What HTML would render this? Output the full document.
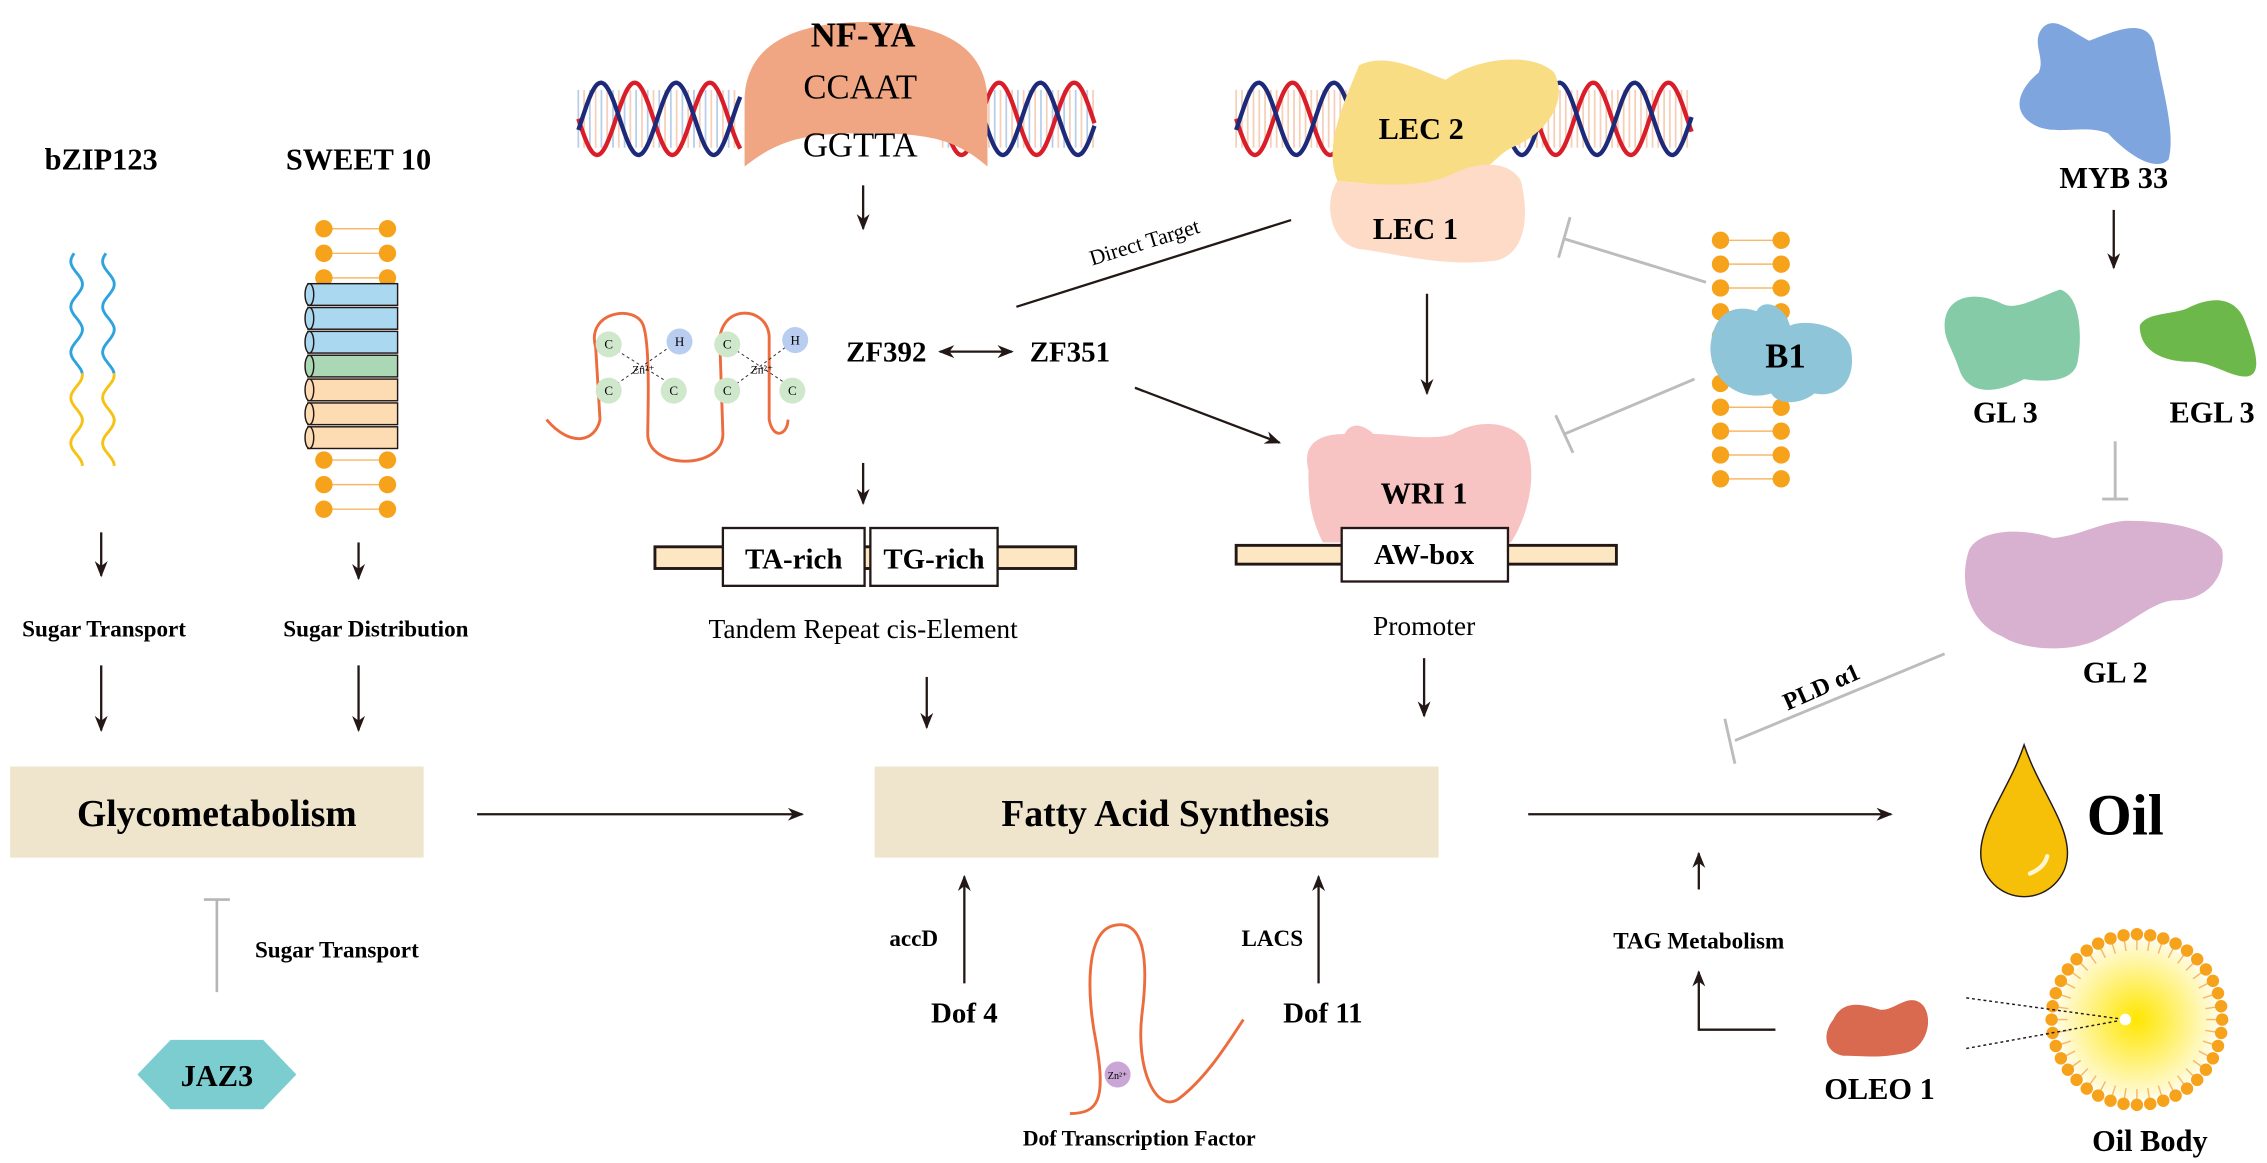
<!DOCTYPE html>
<html><head><meta charset="utf-8"><style>
html,body{margin:0;padding:0;background:#fff}
svg{display:block}
text{font-family:"Liberation Serif",serif}
.b{font-weight:bold}
</style></head><body>
<svg id="s" width="2267" height="1163" viewBox="0 0 1568 804" xmlns="http://www.w3.org/2000/svg">
<defs>
<marker id="a" viewBox="0 0 10 10" refX="9" refY="5" markerWidth="7" markerHeight="7" orient="auto-start-reverse"><path d="M0,1 L10,5 L0,9 L3,5 z" fill="#231815"/></marker>
<radialGradient id="og"><stop offset="0" stop-color="#ffe600"/><stop offset="1" stop-color="#fffbe0"/></radialGradient>
</defs>
<g id="helix"></g>
<!-- NF-YA -->
<path d="M515,115 L515,70 C515,30 550,15 599,15 C648,15 683,30 683,70 L683,115 C660,95 640,92 599,92 C560,92 540,95 515,115 z" fill="#f0a583"/>
<text x="597" y="32" text-anchor="middle" class="b" font-size="24">NF-YA</text>
<text x="595" y="68" text-anchor="middle" font-size="24">CCAAT</text>
<text x="595" y="108" text-anchor="middle" font-size="24">GGTTA</text>

<text x="70" y="117" text-anchor="middle" class="b" font-size="21">bZIP123</text>
<text x="248" y="117" text-anchor="middle" class="b" font-size="21">SWEET 10</text>
<g id="bzip" fill="none" stroke-width="2"></g>
<g id="sweet"></g>

<g stroke="#231815" stroke-width="1.6" fill="none" marker-end="url(#a)">
<line x1="70" y1="368" x2="70" y2="398"/>
<line x1="248" y1="375" x2="248" y2="400"/>
<line x1="70" y1="460" x2="70" y2="505"/>
<line x1="248" y1="460" x2="248" y2="505"/>
<line x1="330" y1="563" x2="555" y2="563"/>
<line x1="1057" y1="563" x2="1308" y2="563"/>
<line x1="597" y1="128" x2="597" y2="158"/>
<line x1="597" y1="320" x2="597" y2="348"/>
<line x1="641" y1="468" x2="641" y2="503"/>
<line x1="785" y1="268" x2="885" y2="306"/>
<line x1="987" y1="203" x2="987" y2="272"/>
<line x1="985" y1="455" x2="985" y2="495"/>
<line x1="1462" y1="145" x2="1462" y2="185"/>
<line x1="1175" y1="615" x2="1175" y2="590"/>
<polyline points="1228,712 1175,712 1175,672"/>
<line x1="667" y1="680" x2="667" y2="606"/>
<line x1="912" y1="680" x2="912" y2="606"/>
</g>
<line x1="650" y1="243" x2="700" y2="243" stroke="#231815" stroke-width="1.6" marker-end="url(#a)" marker-start="url(#a)"/>

<text x="72" y="440" text-anchor="middle" class="b" font-size="16">Sugar Transport</text>
<text x="260" y="440" text-anchor="middle" class="b" font-size="16">Sugar Distribution</text>
<rect x="7" y="530" width="286" height="63" fill="#efe4cc"/>
<text x="150" y="571" text-anchor="middle" class="b" font-size="26">Glycometabolism</text>
<rect x="605" y="530" width="390" height="63" fill="#efe4cc"/>
<text x="806" y="571" text-anchor="middle" class="b" font-size="26">Fatty Acid Synthesis</text>

<g stroke="#b5b5b5" stroke-width="1.8"><line x1="150" y1="686" x2="150" y2="622"/><line x1="141" y1="622" x2="159" y2="622"/></g>
<text x="233" y="662" text-anchor="middle" class="b" font-size="16">Sugar Transport</text>
<polygon points="95,743 118,719 182,719 205,743 182,767 118,767" fill="#7ccdd0"/>
<text x="150" y="751" text-anchor="middle" class="b" font-size="21">JAZ3</text>

<g fill="none" stroke="#ec6c3e" stroke-width="2">
<path d="M378,290 C395,310 412,305 415,290 L412,240 C405,215 440,210 445,225 C450,240 448,290 448,300 C448,325 500,325 500,300 L498,240 C495,210 530,210 532,232 L532,290 C535,305 545,300 545,290"/>
</g>
<g stroke="#333" stroke-width="0.7" stroke-dasharray="2,2"><line x1="420" y1="238" x2="468" y2="268"/><line x1="420" y1="270" x2="470" y2="235"/><line x1="503" y1="238" x2="548" y2="268"/><line x1="503" y1="270" x2="550" y2="235"/></g>
<g font-size="9" text-anchor="middle">
<circle cx="421" cy="238" r="9" fill="#cfe8cc"/><text x="421" y="241">C</text>
<circle cx="421" cy="270" r="9" fill="#cfe8cc"/><text x="421" y="273">C</text>
<circle cx="470" cy="236" r="9" fill="#b9cdf0"/><text x="470" y="239">H</text>
<circle cx="466" cy="270" r="9" fill="#cfe8cc"/><text x="466" y="273">C</text>
<circle cx="503" cy="238" r="9" fill="#cfe8cc"/><text x="503" y="241">C</text>
<circle cx="503" cy="270" r="9" fill="#cfe8cc"/><text x="503" y="273">C</text>
<circle cx="550" cy="235" r="9" fill="#b9cdf0"/><text x="550" y="238">H</text>
<circle cx="548" cy="270" r="9" fill="#cfe8cc"/><text x="548" y="273">C</text>
<text x="445" y="258" font-size="8">Zn²⁺</text><text x="527" y="258" font-size="8">Zn²⁺</text>
</g>
<text x="613" y="250" text-anchor="middle" class="b" font-size="20">ZF392</text>
<text x="740" y="250" text-anchor="middle" class="b" font-size="20">ZF351</text>
<line x1="703" y1="212" x2="893" y2="152" stroke="#231815" stroke-width="1.6"/>
<text x="793" y="172" text-anchor="middle" font-size="15" transform="rotate(-17 793 172)">Direct Target</text>

<rect x="453" y="378" width="291" height="15" fill="#fde7c3" stroke="#231815" stroke-width="2"/>
<rect x="500" y="365" width="98" height="40" fill="#fff" stroke="#231815" stroke-width="1.6"/>
<rect x="602" y="365" width="88" height="40" fill="#fff" stroke="#231815" stroke-width="1.6"/>
<text x="549" y="393" text-anchor="middle" class="b" font-size="20">TA-rich</text>
<text x="646" y="393" text-anchor="middle" class="b" font-size="20">TG-rich</text>
<text x="597" y="441" text-anchor="middle" font-size="19">Tandem Repeat cis-Element</text>

<path d="M925,125 C915,100 930,70 940,45 C960,35 985,50 1000,55 C1020,40 1060,35 1075,50 C1085,70 1070,90 1050,100 C1035,105 1030,120 1010,125 C990,132 960,128 925,125 z" fill="#f9dd84"/>
<path d="M925,125 C955,128 985,130 1005,120 C1025,110 1045,112 1052,125 C1058,150 1055,175 1035,180 C1000,185 965,175 940,172 C920,168 915,140 925,125 z" fill="#fddbc6"/>
<text x="983" y="96" text-anchor="middle" class="b" font-size="21">LEC 2</text>
<text x="979" y="165" text-anchor="middle" class="b" font-size="21">LEC 1</text>

<path d="M905,325 C900,305 915,300 930,300 C935,290 945,295 950,300 C965,300 990,305 1005,300 C1020,290 1045,290 1055,305 C1065,330 1055,360 1045,375 L915,375 C905,355 905,340 905,325 z" fill="#f7c3c3"/>
<text x="985" y="348" text-anchor="middle" class="b" font-size="21">WRI 1</text>
<rect x="855" y="377" width="263" height="13" fill="#fde7c3" stroke="#231815" stroke-width="2"/>
<rect x="928" y="365" width="115" height="37" fill="#fff" stroke="#231815" stroke-width="1.6"/>
<text x="985" y="390" text-anchor="middle" class="b" font-size="20">AW-box</text>
<text x="985" y="439" text-anchor="middle" font-size="19">Promoter</text>

<g id="b1m"></g>
<g stroke="#bcbcbc" stroke-width="2"><line x1="1180" y1="195" x2="1082" y2="165"/><line x1="1086" y1="150" x2="1078" y2="178"/>
<line x1="1172" y1="262" x2="1082" y2="300"/><line x1="1076" y1="287" x2="1088" y2="313"/></g>
<path d="M1183,240 C1185,215 1200,210 1215,215 C1220,205 1235,212 1238,225 C1250,220 1275,225 1280,240 C1285,265 1270,275 1255,272 C1245,280 1230,280 1225,272 C1205,278 1183,265 1183,240 z" fill="#8fc5d8"/>
<text x="1235" y="254" text-anchor="middle" class="b" font-size="24">B1</text>

<path d="M1412,20 C1420,10 1430,20 1445,28 C1465,20 1485,12 1490,30 C1495,60 1505,90 1500,110 C1490,120 1470,105 1458,92 C1440,85 1420,95 1405,85 C1390,75 1398,60 1410,50 C1415,40 1405,30 1412,20 z" fill="#7fa5de"/>
<text x="1462" y="130" text-anchor="middle" class="b" font-size="21">MYB 33</text>
<path d="M1345,225 C1345,205 1365,200 1385,210 C1395,215 1410,205 1425,200 C1440,205 1440,235 1437,250 C1435,262 1420,265 1400,262 C1375,275 1360,270 1355,255 C1350,240 1345,235 1345,225 z" fill="#86cba8"/>
<path d="M1480,225 C1485,215 1505,218 1515,212 C1530,205 1545,205 1552,220 C1560,240 1565,258 1555,260 C1545,262 1530,250 1515,250 C1500,250 1480,245 1480,225 z" fill="#6db84a"/>
<text x="1387" y="292" text-anchor="middle" class="b" font-size="21">GL 3</text>
<text x="1530" y="292" text-anchor="middle" class="b" font-size="21">EGL 3</text>
<g stroke="#bcbcbc" stroke-width="2"><line x1="1463" y1="305" x2="1463" y2="345"/><line x1="1454" y1="345" x2="1472" y2="345"/></g>
<path d="M1362,380 C1370,365 1400,365 1420,372 C1440,370 1450,362 1470,360 C1500,360 1530,365 1537,380 C1540,400 1525,415 1505,415 C1490,415 1475,430 1455,440 C1435,452 1400,450 1385,440 C1360,430 1355,400 1362,380 z" fill="#d8b0d0"/>
<text x="1463" y="472" text-anchor="middle" class="b" font-size="21">GL 2</text>
<g stroke="#bcbcbc" stroke-width="2"><line x1="1345" y1="452" x2="1200" y2="512"/><line x1="1193" y1="497" x2="1200" y2="528"/></g>
<text x="1262" y="480" text-anchor="middle" class="b" font-size="17" transform="rotate(-24 1262 480)">PLD α1</text>

<path d="M1400,515 C1390,545 1370,568 1370,590 C1370,607 1384,620 1400,620 C1416,620 1430,607 1430,590 C1430,568 1410,545 1400,515 z" fill="#f6bf08" stroke="#231815" stroke-width="1"/>
<path d="M1404,604 Q1414,600 1416,592" stroke="#fff6d0" stroke-width="3" fill="none" stroke-linecap="round"/>
<text x="1470" y="577" text-anchor="middle" class="b" font-size="40">Oil</text>
<text x="1175" y="656" text-anchor="middle" class="b" font-size="16">TAG Metabolism</text>
<path d="M1268,705 C1275,690 1290,695 1300,698 C1310,700 1320,685 1330,695 C1338,705 1332,725 1318,728 C1300,732 1290,730 1275,730 C1262,728 1260,715 1268,705 z" fill="#d9694f"/>
<text x="1300" y="760" text-anchor="middle" class="b" font-size="21">OLEO 1</text>
<circle cx="1478" cy="705" r="55" fill="url(#og)"/>
<g id="ob"></g>
<g stroke="#231815" stroke-width="1" stroke-dasharray="2,2"><line x1="1360" y1="690" x2="1470" y2="705"/><line x1="1360" y1="725" x2="1470" y2="705"/></g>
<circle cx="1470" cy="705" r="4" fill="#fff"/>
<text x="1487" y="796" text-anchor="middle" class="b" font-size="21">Oil Body</text>

<text x="632" y="654" text-anchor="middle" class="b" font-size="16">accD</text>
<text x="667" y="707" text-anchor="middle" class="b" font-size="20">Dof 4</text>
<text x="880" y="654" text-anchor="middle" class="b" font-size="16">LACS</text>
<text x="915" y="707" text-anchor="middle" class="b" font-size="20">Dof 11</text>
<path d="M740,770 C760,770 765,760 758,720 C752,690 750,645 770,640 C790,635 795,660 790,700 C785,740 800,770 815,760 C835,745 850,720 860,705" fill="none" stroke="#ec6c3e" stroke-width="2"/>
<circle cx="773" cy="743" r="9" fill="#c9a6d6"/><text x="773" y="746" text-anchor="middle" font-size="7">Zn²⁺</text>
<text x="788" y="792" text-anchor="middle" class="b" font-size="15">Dof Transcription Factor</text>
</svg>
<script>
var NS="http://www.w3.org/2000/svg";
function el(p,t,a){var e=document.createElementNS(NS,t);for(var k in a)e.setAttribute(k,a[k]);p.appendChild(e);return e;}
var H=document.getElementById("helix");
function helix(x0,x1,yc,A,P){
  for(var x=x0;x<x1;x+=4){el(H,"line",{x1:x,y1:yc-A*0.8,x2:x,y2:yc+A*0.8,stroke:(x%8?"#f5cfb8":"#b7cde8"),"stroke-width":1.2});}
  ["#d91e2a","#1d2a7a"].forEach(function(c,i){var d="";for(var x=x0;x<=x1;x+=1){var y=yc+A*Math.sin((x-x0)/P*2*Math.PI+i*Math.PI*0.9);d+=(x==x0?"M":"L")+x+","+y.toFixed(1);}el(H,"path",{d:d,fill:"none",stroke:c,"stroke-width":3});});
}
helix(400,512,82,25,52);helix(652,757,82,25,52);helix(855,1170,82,25,52);
var B=document.getElementById("bzip");
function wave(x,y0,y1,c){var d="";for(var y=y0;y<=y1;y++){d+=(y==y0?"M":"L")+(x+4*Math.sin(y/5)).toFixed(1)+","+y;}el(B,"path",{d:d,stroke:c});}
wave(53,175,258,"#2fa3de");wave(75,175,258,"#2fa3de");wave(53,258,322,"#f6c314");wave(75,258,322,"#f6c314");
var S=document.getElementById("sweet");
function balls(g,xs,ys){ys.forEach(function(y){el(g,"line",{x1:xs[0],y1:y,x2:xs[1],y2:y,stroke:"#f6b86a","stroke-width":1});xs.forEach(function(x){el(g,"circle",{cx:x,cy:y,r:6,fill:"#f6a21a"});});});}
balls(S,[224,268],[158,175,192,318,335,352]);
var cols=["#a9d8f0","#a9d8f0","#a9d8f0","#aad7b4","#fddcb4","#fddcb4","#fddcb4"];
cols.forEach(function(c,i){var y=196+i*16.5;el(S,"rect",{x:213,y:y,width:62,height:15,fill:c,stroke:"#231815","stroke-width":1});el(S,"ellipse",{cx:214,cy:y+7.5,rx:3,ry:7.5,fill:c,stroke:"#231815","stroke-width":1});});
var B1=document.getElementById("b1m");var ys=[];for(var i=0;i<11;i++)ys.push(166+i*16.5);balls(B1,[1190,1232],ys);
var O=document.getElementById("ob");
for(var i=0;i<40;i++){var a=i/40*2*Math.PI;var cx=1478,cy=705;el(O,"line",{x1:cx+48*Math.cos(a),y1:cy+48*Math.sin(a),x2:cx+57*Math.cos(a),y2:cy+57*Math.sin(a),stroke:"#f6b86a","stroke-width":1});el(O,"circle",{cx:cx+59*Math.cos(a),cy:cy+59*Math.sin(a),r:4.3,fill:"#f6a21a"});}
</script>
</body></html>
